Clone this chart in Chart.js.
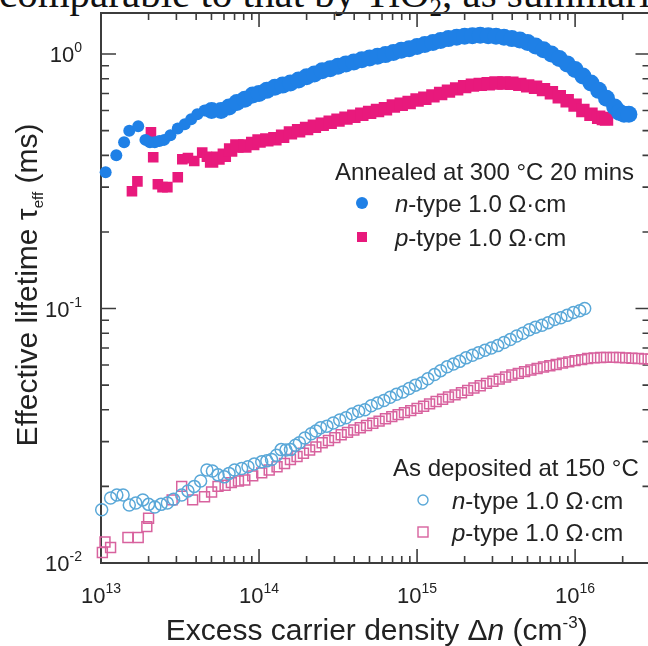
<!DOCTYPE html>
<html lang="en">
<head>
<meta charset="UTF-8">
<title>Effective lifetime vs excess carrier density</title>
<script src="https://cdn.jsdelivr.net/npm/chart.js"></script>
<style>
  body { margin: 0; width: 648px; height: 646px; overflow: hidden; background: #fff; position: relative; }
  .cut-text { position: absolute; left: -1px; top: -27px; font-family: "Liberation Serif", serif; font-size: 41px; line-height: 41px; white-space: nowrap; color: #111; }
  .box { position: absolute; left: 0; top: 0; }
</style>
</head>
<body>
<div class="cut-text">comparable to that by TiO<sub style="font-size:25px">2</sub>, as summari</div>
<div class="box"><canvas id="chart" width="660" height="646"></canvas></div>

<script>
// axis limits
const X_MIN = 1e13, X_MAX = 3e16;
const Y_MIN = 0.01, Y_MAX = 1.45;
const xDecades = [13, 14, 15, 16];
const yDecades = [-2, -1, 0];

// annealed at 300 C, n-type (filled circles)
const nAnnDn = [1.07e13, 1.25e13, 1.40e13, 1.51e13, 1.72e13, 1.91e13, 2.04e13, 2.19e13, 2.34e13, 2.51e13,
  2.75e13, 3.06e13, 3.39e13, 3.72e13, 4.07e13, 4.52e13, 5.01e13, 5.75e13, 6.46e13, 7.24e13, 8.13e13, 9.12e13,
  1.00e14, 1.12e14, 1.26e14, 1.41e14, 1.58e14, 1.78e14, 2.00e14, 2.24e14, 2.51e14, 2.82e14,
  3.16e14, 3.55e14, 3.98e14, 4.47e14, 5.01e14, 5.62e14, 6.31e14, 7.08e14, 7.94e14, 8.91e14,
  1.00e15, 1.12e15, 1.26e15, 1.41e15, 1.58e15, 1.78e15, 2.00e15, 2.24e15, 2.51e15, 2.82e15,
  3.16e15, 3.55e15, 3.98e15, 4.47e15, 5.01e15, 5.62e15, 6.31e15, 7.08e15, 7.94e15, 8.91e15,
  1.00e16, 1.12e16, 1.26e16, 1.41e16, 1.58e16, 1.78e16, 1.91e16, 2.04e16, 2.19e16];
const nAnnTau = [0.343, 0.40, 0.45, 0.50, 0.52, 0.46, 0.45, 0.45, 0.455, 0.46,
  0.48, 0.51, 0.53, 0.555, 0.58, 0.60, 0.60, 0.60, 0.62, 0.645, 0.665, 0.69,
  0.70, 0.72, 0.74, 0.755, 0.77, 0.79, 0.815, 0.835, 0.86, 0.875,
  0.895, 0.915, 0.93, 0.95, 0.965, 0.98, 0.995, 1.015, 1.035, 1.05,
  1.07, 1.09, 1.11, 1.13, 1.15, 1.165, 1.175, 1.18, 1.185, 1.18,
  1.175, 1.165, 1.15, 1.135, 1.11, 1.075, 1.04, 1.00, 0.96, 0.915,
  0.87, 0.82, 0.77, 0.72, 0.67, 0.62, 0.59, 0.58, 0.58];

// annealed at 300 C, p-type (filled squares)
const pAnnDn = [1.57e13, 1.70e13, 2.07e13, 2.14e13, 2.29e13, 2.45e13, 2.63e13, 3.06e13, 3.27e13, 3.55e13,
  3.89e13, 4.37e13, 4.68e13, 5.01e13, 5.50e13, 6.03e13, 6.61e13, 7.24e13, 8.13e13, 9.12e13,
  1.00e14, 1.12e14, 1.26e14, 1.41e14, 1.58e14, 1.78e14, 2.00e14, 2.24e14, 2.51e14, 2.82e14,
  3.16e14, 3.55e14, 3.98e14, 4.47e14, 5.01e14, 5.62e14, 6.31e14, 7.08e14, 7.94e14, 8.91e14,
  1.00e15, 1.12e15, 1.26e15, 1.41e15, 1.58e15, 1.78e15, 2.00e15, 2.24e15, 2.51e15, 2.82e15,
  3.16e15, 3.55e15, 3.98e15, 4.47e15, 5.01e15, 5.62e15, 6.31e15, 7.08e15, 7.94e15, 8.91e15,
  1.00e16, 1.12e16, 1.26e16, 1.41e16, 1.51e16, 1.58e16];
const pAnnTau = [0.289, 0.316, 0.493, 0.393, 0.308, 0.30, 0.30, 0.328, 0.386, 0.39,
  0.38, 0.41, 0.395, 0.38, 0.39, 0.40, 0.42, 0.435, 0.435, 0.445,
  0.455, 0.46, 0.465, 0.475, 0.49, 0.50, 0.51, 0.52, 0.53, 0.54,
  0.55, 0.56, 0.57, 0.58, 0.59, 0.60, 0.61, 0.625, 0.635, 0.645,
  0.66, 0.67, 0.685, 0.70, 0.715, 0.73, 0.745, 0.755, 0.76, 0.765,
  0.77, 0.77, 0.768, 0.76, 0.75, 0.74, 0.725, 0.705, 0.68, 0.655,
  0.63, 0.60, 0.58, 0.565, 0.558, 0.555];

// as deposited at 150 C, n-type (open circles)
const nDepDn = [1.01e13, 1.15e13, 1.26e13, 1.38e13, 1.51e13, 1.66e13, 1.84e13, 2.00e13, 2.19e13, 2.40e13,
  2.63e13, 2.88e13, 3.24e13, 3.55e13, 3.89e13, 4.27e13, 4.68e13, 5.07e13, 5.50e13, 6.03e13,
  6.46e13, 7.00e13, 7.76e13, 8.51e13, 9.33e13, 1.04e14, 1.12e14, 1.20e14, 1.29e14, 1.38e14,
  1.48e14, 1.58e14, 1.70e14, 1.80e14, 1.95e14, 2.14e14, 2.29e14, 2.45e14, 2.69e14, 2.95e14,
  3.24e14, 3.55e14, 3.89e14, 4.27e14, 4.68e14, 5.13e14, 5.62e14, 6.17e14, 6.76e14, 7.41e14,
  8.13e14, 8.91e14, 9.77e14, 1.07e15, 1.17e15, 1.29e15, 1.41e15, 1.55e15, 1.70e15, 1.86e15,
  2.04e15, 2.24e15, 2.45e15, 2.69e15, 2.95e15, 3.24e15, 3.55e15, 3.89e15, 4.27e15, 4.68e15,
  5.13e15, 5.62e15, 6.17e15, 6.76e15, 7.41e15, 8.13e15, 8.91e15, 9.77e15, 1.07e16, 1.15e16];
const nDepTau = [0.0162, 0.0180, 0.0185, 0.0185, 0.0169, 0.0172, 0.0177, 0.0170, 0.0166, 0.0170,
  0.0172, 0.0178, 0.0185, 0.0192, 0.0200, 0.0210, 0.0232, 0.0230, 0.0222, 0.0218,
  0.0225, 0.0232, 0.0235, 0.0239, 0.0245, 0.0250, 0.0252, 0.0255, 0.0265, 0.0279,
  0.0278, 0.0279, 0.0290, 0.0297, 0.0310, 0.0322, 0.0330, 0.0340, 0.0345, 0.0355,
  0.0365, 0.0372, 0.0385, 0.0395, 0.0400, 0.0415, 0.0425, 0.0435, 0.0448, 0.0460,
  0.0470, 0.0485, 0.0500, 0.0510, 0.0530, 0.0550, 0.0570, 0.0590, 0.0605, 0.0620,
  0.0640, 0.0655, 0.0670, 0.0685, 0.0700, 0.0715, 0.0735, 0.0755, 0.0780, 0.0800,
  0.0825, 0.0845, 0.0860, 0.0880, 0.0905, 0.0920, 0.0940, 0.0965, 0.0980, 0.1000];

// as deposited at 150 C, p-type (open squares)
const pDepDn = [1.02e13, 1.06e13, 1.15e13, 1.48e13, 1.72e13, 1.95e13, 2.00e13, 2.82e13, 3.24e13, 3.80e13,
  4.52e13, 5.01e13, 5.50e13, 6.10e13, 6.68e13, 7.41e13, 8.13e13, 9.12e13, 1.04e14, 1.16e14,
  1.30e14, 1.45e14, 1.58e14, 1.74e14, 1.91e14, 2.09e14, 2.29e14, 2.51e14, 2.75e14, 3.02e14,
  3.31e14, 3.63e14, 3.98e14, 4.37e14, 4.79e14, 5.25e14, 5.75e14, 6.31e14, 6.92e14, 7.59e14,
  8.32e14, 9.12e14, 1.00e15, 1.10e15, 1.20e15, 1.32e15, 1.45e15, 1.58e15, 1.74e15, 1.91e15,
  2.09e15, 2.29e15, 2.51e15, 2.75e15, 3.02e15, 3.31e15, 3.63e15, 3.98e15, 4.37e15, 4.79e15,
  5.25e15, 5.75e15, 6.31e15, 6.92e15, 7.59e15, 8.32e15, 9.12e15, 1.00e16, 1.10e16, 1.20e16,
  1.32e16, 1.45e16, 1.58e16, 1.74e16, 1.91e16, 2.09e16, 2.29e16, 2.51e16, 2.75e16, 3.02e16];
const pDepTau = [0.0110, 0.0121, 0.0115, 0.0126, 0.0126, 0.0139, 0.0150, 0.0177, 0.0200, 0.0177,
  0.0182, 0.0190, 0.0200, 0.0202, 0.0207, 0.0210, 0.0212, 0.0220, 0.0226, 0.0232,
  0.0239, 0.0246, 0.0255, 0.0262, 0.0270, 0.0278, 0.0286, 0.0297, 0.0303, 0.0311,
  0.0319, 0.0326, 0.0333, 0.0340, 0.0347, 0.0354, 0.0361, 0.0369, 0.0376, 0.0383,
  0.0390, 0.0397, 0.0405, 0.0413, 0.0422, 0.0431, 0.0440, 0.0449, 0.0458, 0.0467,
  0.0477, 0.0487, 0.0497, 0.0508, 0.0518, 0.0528, 0.0538, 0.0548, 0.0556, 0.0565,
  0.0573, 0.0581, 0.0589, 0.0596, 0.0603, 0.0610, 0.0617, 0.0624, 0.0630, 0.0636,
  0.0640, 0.0642, 0.0643, 0.0643, 0.0642, 0.0640, 0.0638, 0.0636, 0.0634, 0.0632];

const BLUE = '#1f80e6', PINK = '#e8197c', BLUE_OPEN = '#5aa8d8', PINK_OPEN = '#d8629e';
const SANS = '"Liberation Sans", Arial, sans-serif';

function toPoints(xs, ys) {
  return xs.map((v, i) => ({ x: v, y: ys[i] }));
}

// the sparse low-injection points look smaller than the dense band further right
function bandRadius(small, big) {
  return c => (c.raw && c.raw.x < 5e13 ? small : big);
}

// draws a row of text pieces [text, font, dy]
function drawRuns(ctx, runs, x, y, align) {
  let w = 0;
  runs.forEach(r => { ctx.font = r[1]; w += ctx.measureText(r[0]).width; });
  let cx = align === 'center' ? x - w / 2 : align === 'right' ? x - w : x;
  runs.forEach(r => {
    ctx.font = r[1];
    ctx.fillText(r[0], cx, y + (r[2] || 0));
    cx += ctx.measureText(r[0]).width;
  });
}

// frame with inward ticks on all four sides
const frame = {
  id: 'frame',
  beforeDatasetsDraw(chart) {
    const { ctx, chartArea: a, scales: { x, y } } = chart;
    ctx.save();
    ctx.strokeStyle = '#3c3c3c';
    ctx.lineWidth = 2;
    ctx.strokeRect(a.left, a.top, a.right - a.left, a.bottom - a.top);
    ctx.lineWidth = 1.6;
    ctx.beginPath();
    xDecades.forEach(e => {
      for (let m = 1; m <= 9; m++) {
        const v = m * Math.pow(10, e);
        if (v < X_MIN || v > X_MAX) continue;
        const px = x.getPixelForValue(v);
        const len = m === 1 ? 14 : 7;
        ctx.moveTo(px, a.bottom); ctx.lineTo(px, a.bottom - len);
        ctx.moveTo(px, a.top); ctx.lineTo(px, a.top + len);
      }
    });
    yDecades.forEach(e => {
      for (let m = 1; m <= 9; m++) {
        const v = m * Math.pow(10, e);
        if (v < Y_MIN || v > Y_MAX) continue;
        const py = y.getPixelForValue(v);
        const len = m === 1 ? 15 : 8;
        ctx.moveTo(a.left, py); ctx.lineTo(a.left + len, py);
        ctx.moveTo(a.right, py); ctx.lineTo(a.right - len, py);
      }
    });
    ctx.stroke();
    ctx.restore();
  }
};

// tick labels, axis titles and the two legend groups
const texts = {
  id: 'texts',
  afterDraw(chart) {
    const { ctx, chartArea: a, scales: { x, y } } = chart;
    const base = '22px ' + SANS, sup = '14px ' + SANS;
    ctx.save();
    ctx.fillStyle = '#222';
    ctx.textBaseline = 'alphabetic';

    xDecades.forEach(e => {
      const px = x.getPixelForValue(Math.pow(10, e));
      drawRuns(ctx, [['10', base], [String(e), sup, -10]], px, a.bottom + 40, 'center');
    });
    yDecades.forEach(e => {
      const py = y.getPixelForValue(Math.pow(10, e));
      drawRuns(ctx, [['10', base], [e === 0 ? '0' : '-' + (-e), sup, -10]], a.left - 19, py + 8, 'right');
    });

    // x title
    const tf = '30px ' + SANS;
    drawRuns(ctx, [['Excess carrier density \u0394', tf], ['n', 'italic ' + tf], [' (cm', tf],
      ['-3', '17px ' + SANS, -12], [')', tf]], (a.left + a.right) / 2 + 1, 640, 'center');

    // y title
    ctx.save();
    ctx.translate(37, (a.top + a.bottom) / 2 - 3);
    ctx.rotate(-Math.PI / 2);
    drawRuns(ctx, [['Effective lifetime \u03c4', tf], ['eff', '15px ' + SANS, 6], [' (ms)', tf]], 0, 0, 'center');
    ctx.restore();

    // legends
    const lf = '24px ' + SANS;
    drawRuns(ctx, [['Annealed at 300 \u00b0C 20 mins', lf]], 335, 180, 'left');
    drawRuns(ctx, [['n', 'italic ' + lf], ['-type 1.0 \u03a9\u00b7cm', lf]], 395, 212, 'left');
    drawRuns(ctx, [['p', 'italic ' + lf], ['-type 1.0 \u03a9\u00b7cm', lf]], 395, 246, 'left');
    drawRuns(ctx, [['As deposited at 150 \u00b0C', lf]], 393, 476, 'left');
    drawRuns(ctx, [['n', 'italic ' + lf], ['-type 1.0 \u03a9\u00b7cm', lf]], 452, 509, 'left');
    drawRuns(ctx, [['p', 'italic ' + lf], ['-type 1.0 \u03a9\u00b7cm', lf]], 452, 541, 'left');

    ctx.fillStyle = BLUE;
    ctx.beginPath(); ctx.arc(362, 203, 6, 0, Math.PI * 2); ctx.fill();
    ctx.fillStyle = PINK;
    ctx.fillRect(357, 232, 10, 10);
    ctx.lineWidth = 1.4;
    ctx.strokeStyle = BLUE_OPEN;
    ctx.beginPath(); ctx.arc(423, 500, 5, 0, Math.PI * 2); ctx.stroke();
    ctx.strokeStyle = PINK_OPEN;
    ctx.strokeRect(418, 527, 10, 10);
    ctx.restore();
  }
};

new Chart(document.getElementById('chart'), {
  type: 'scatter',
  data: {
    datasets: [
      { label: 'n-type annealed', data: toPoints(nAnnDn, nAnnTau), pointStyle: 'circle', pointRadius: bandRadius(6, 8.5),
        backgroundColor: BLUE, borderColor: BLUE, borderWidth: 0 },
      { label: 'p-type annealed', data: toPoints(pAnnDn, pAnnTau), pointStyle: 'rect', pointRadius: bandRadius(7.5, 9.5),
        backgroundColor: PINK, borderColor: PINK, borderWidth: 0 },
      { label: 'n-type deposited', data: toPoints(nDepDn, nDepTau), pointStyle: 'circle', pointRadius: 6,
        backgroundColor: 'rgba(255,255,255,0)', borderColor: BLUE_OPEN, borderWidth: 1.5 },
      { label: 'p-type deposited', data: toPoints(pDepDn, pDepTau), pointStyle: 'rect', pointRadius: 7,
        backgroundColor: 'rgba(255,255,255,0)', borderColor: PINK_OPEN, borderWidth: 1.5 }
    ]
  },
  options: {
    responsive: false,
    animation: false,
    clip: 8,
    layout: { padding: { left: 101, top: 13, right: 9, bottom: 83 } },
    scales: {
      x: { type: 'logarithmic', min: X_MIN, max: X_MAX, display: false },
      y: { type: 'logarithmic', min: Y_MIN, max: Y_MAX, display: false }
    },
    plugins: { legend: { display: false }, tooltip: { enabled: false } }
  },
  plugins: [frame, texts]
});
</script>
</body>
</html>
